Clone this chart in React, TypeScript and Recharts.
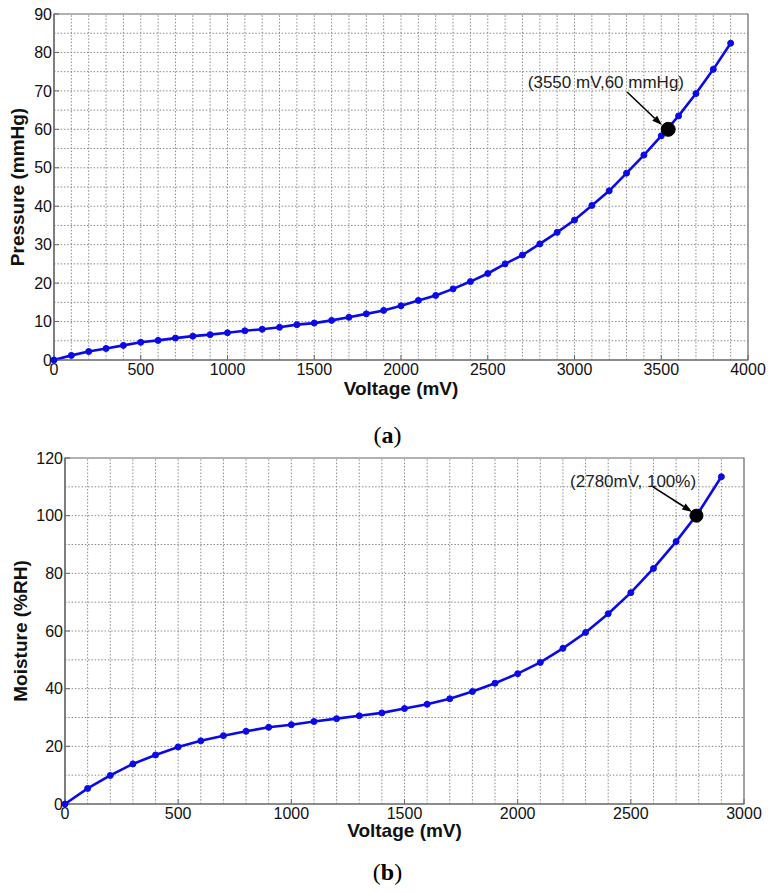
import React from 'react';
import { LineChart, Line, XAxis, YAxis, ReferenceLine, ReferenceDot, ReferenceArea } from 'recharts';

// (a) pressure sensor calibration
const pressureVoltage = [
  0, 100, 200, 300, 400, 500, 600, 700, 800, 900, 1000, 1100, 1200, 1300, 1400, 1500, 1600, 1700, 1800, 1900,
  2000, 2100, 2200, 2300, 2400, 2500, 2600, 2700, 2800, 2900, 3000, 3100, 3200, 3300, 3400, 3500, 3600, 3700, 3800, 3900,
];
const pressureValues = [
  0, 1.2, 2.2, 3.0, 3.8, 4.6, 5.1, 5.7, 6.2, 6.6, 7.1, 7.6, 8.0, 8.5, 9.2, 9.6, 10.3, 11.1, 12.0, 12.9,
  14.1, 15.5, 16.8, 18.5, 20.4, 22.5, 25.0, 27.3, 30.2, 33.2, 36.4, 40.2, 44.0, 48.6, 53.3, 58.3, 63.5, 69.3, 75.6, 82.4,
];
const pressureXTicks = [0, 500, 1000, 1500, 2000, 2500, 3000, 3500, 4000];
const pressureYTicks = [0, 10, 20, 30, 40, 50, 60, 70, 80, 90];

// (b) moisture sensor calibration
const moistureVoltage = [
  0, 100, 200, 300, 400, 500, 600, 700, 800, 900, 1000, 1100, 1200, 1300, 1400,
  1500, 1600, 1700, 1800, 1900, 2000, 2100, 2200, 2300, 2400, 2500, 2600, 2700, 2800, 2900,
];
const moistureValues = [
  0, 5.4, 9.9, 13.9, 17.0, 19.8, 21.9, 23.7, 25.2, 26.6, 27.5, 28.6, 29.6, 30.6, 31.6,
  33.1, 34.6, 36.5, 39.0, 41.9, 45.2, 49.1, 54.0, 59.5, 66.0, 73.3, 81.7, 91.0, 101.2, 113.5,
];
const moistureXTicks = [0, 500, 1000, 1500, 2000, 2500, 3000];
const moistureYTicks = [0, 20, 40, 60, 80, 100, 120];

const FONT = '"Liberation Sans", Arial, sans-serif';
const BLUE = '#0a0ae8';
const FRAME = '#666';

const steps = (step: number, max: number) => {
  const out: number[] = [];
  for (let v = step; v < max; v += step) out.push(v);
  return out;
};

const arrowShape = (props: any) => {
  const { x1, y1, x2, y2 } = props;
  const dx = x2 - x1;
  const dy = y2 - y1;
  const len = Math.sqrt(dx * dx + dy * dy) || 1;
  const ux = dx / len;
  const uy = dy / len;
  const head = 10;
  const half = 3.5;
  const bx = x2 - ux * head;
  const by = y2 - uy * head;
  const pts = `${x2},${y2} ${bx - uy * half},${by + ux * half} ${bx + uy * half},${by - ux * half}`;
  return (
    <g>
      <line x1={x1} y1={y1} x2={bx} y2={by} stroke="#000" strokeWidth={1.6} />
      <polygon points={pts} fill="#000" />
    </g>
  );
};

interface PanelProps {
  voltage: number[];
  values: number[];
  xTicks: number[];
  yTicks: number[];
  gridXStep: number;
  gridYStep: number;
  yLabel: string;
  width: number;
  height: number;
  margin: { top: number; right: number; left: number; bottom: number };
  yAxisWidth: number;
  xAxisHeight: number;
  yLabelOffset: number;
  xLabelOffset: number;
  mark: { x: number; y: number; r: number };
  arrow: { x1: number; y1: number; x2: number; y2: number };
  note: { x: number; y: number; text: string };
}

const SensorPanel: React.FC<PanelProps> = (p) => {
  const data = p.voltage.map((v, i) => ({ voltage: v, value: p.values[i] }));
  const xMax = p.xTicks[p.xTicks.length - 1];
  const yMax = p.yTicks[p.yTicks.length - 1];
  const tickStyle = { fontSize: 16, fontFamily: FONT, fill: '#111' };
  const labelStyle = { fontSize: 19, fontWeight: 700, fontFamily: FONT, fill: '#111' };

  return (
    <LineChart width={p.width} height={p.height} data={data} margin={p.margin}>
      {steps(p.gridXStep, xMax).map((v) => (
        <ReferenceLine key={'gx' + v} x={v} stroke="#8a8a8a" strokeDasharray="1.5 1.8" strokeWidth={1} />
      ))}
      {steps(p.gridYStep, yMax).map((v) => (
        <ReferenceLine key={'gy' + v} y={v} stroke="#8a8a8a" strokeDasharray="1.5 1.8" strokeWidth={1} />
      ))}
      <ReferenceArea x1={0} x2={xMax} y1={0} y2={yMax} fill="none" stroke={FRAME} strokeWidth={1.2} />
      <XAxis
        dataKey="voltage"
        type="number"
        domain={[0, xMax]}
        ticks={p.xTicks}
        height={p.xAxisHeight}
        tick={tickStyle}
        tickSize={-5}
        tickMargin={9}
        tickLine={{ stroke: FRAME }}
        axisLine={{ stroke: FRAME, strokeWidth: 1.2 }}
        interval={0}
        label={{ value: 'Voltage (mV)', position: 'insideBottom', offset: p.xLabelOffset, style: labelStyle }}
      />
      <YAxis
        type="number"
        domain={[0, yMax]}
        ticks={p.yTicks}
        width={p.yAxisWidth}
        tick={tickStyle}
        tickSize={-5}
        tickMargin={7}
        tickLine={{ stroke: FRAME }}
        axisLine={{ stroke: FRAME, strokeWidth: 1.2 }}
        interval={0}
        label={{
          value: p.yLabel,
          angle: -90,
          position: 'insideLeft',
          offset: p.yLabelOffset,
          style: { ...labelStyle, textAnchor: 'middle' },
        }}
      />
      <Line
        type="linear"
        dataKey="value"
        stroke={BLUE}
        strokeWidth={2.6}
        dot={{ r: 3, fill: BLUE, stroke: BLUE, strokeWidth: 1 }}
        isAnimationActive={false}
      />
      <ReferenceDot x={p.mark.x} y={p.mark.y} r={p.mark.r} fill="#000" stroke="#000" />
      <ReferenceLine
        segment={[
          { x: p.arrow.x1, y: p.arrow.y1 },
          { x: p.arrow.x2, y: p.arrow.y2 },
        ]}
        shape={arrowShape}
      />
      <ReferenceDot
        x={p.note.x}
        y={p.note.y}
        r={0}
        fill="none"
        stroke="none"
        label={{ value: p.note.text, position: 'center', style: { fontSize: 17, fontFamily: FONT, fill: '#222' } }}
      />
    </LineChart>
  );
};

const captionStyle: React.CSSProperties = {
  position: 'absolute',
  left: 0,
  width: 775,
  textAlign: 'center',
  fontFamily: '"Liberation Serif", "Times New Roman", serif',
  fontSize: 24,
  lineHeight: '28px',
};

export default function App() {
  return (
    <div style={{ position: 'absolute', left: 0, top: 0, width: 775, height: 893, background: '#fff' }}>
      <div style={{ position: 'absolute', left: 0, top: 0 }}>
        <SensorPanel
          voltage={pressureVoltage}
          values={pressureValues}
          xTicks={pressureXTicks}
          yTicks={pressureYTicks}
          gridXStep={100}
          gridYStep={5}
          yLabel="Pressure (mmHg)"
          width={775}
          height={400}
          margin={{ top: 14, right: 27, left: 0, bottom: 0 }}
          yAxisWidth={54}
          xAxisHeight={40}
          yLabelOffset={17}
          xLabelOffset={5}
          mark={{ x: 3540, y: 60, r: 7 }}
          arrow={{ x1: 3303, y1: 69.7, x2: 3504, y2: 61.1 }}
          note={{ x: 3181, y: 72.3, text: '(3550 mV,60 mmHg)' }}
        />
      </div>
      <div style={{ ...captionStyle, top: 421 }}>
        (<b>a</b>)
      </div>
      <div style={{ position: 'absolute', left: 0, top: 440 }}>
        <SensorPanel
          voltage={moistureVoltage}
          values={moistureValues}
          xTicks={moistureXTicks}
          yTicks={moistureYTicks}
          gridXStep={100}
          gridYStep={10}
          yLabel="Moisture (%RH)"
          width={775}
          height={410}
          margin={{ top: 18, right: 31, left: 0, bottom: 0 }}
          yAxisWidth={65}
          xAxisHeight={46}
          yLabelOffset={20}
          xLabelOffset={13}
          mark={{ x: 2790, y: 100, r: 6.5 }}
          arrow={{ x1: 2598, y1: 110, x2: 2771, y2: 101.3 }}
          note={{ x: 2510, y: 112, text: '(2780mV, 100%)' }}
        />
      </div>
      <div style={{ ...captionStyle, top: 858 }}>
        (<b>b</b>)
      </div>
    </div>
  );
}
